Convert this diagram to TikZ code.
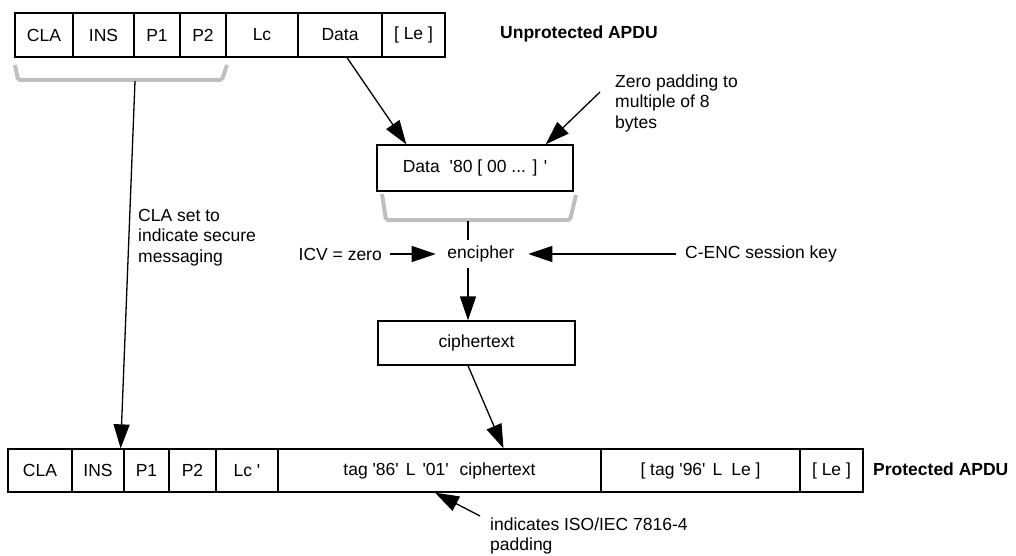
\documentclass[tikz,border=0pt]{standalone}
\usepackage{fontspec}
\setmainfont{Liberation Sans}[Ligatures=TeXOff]
\usetikzlibrary{arrows.meta}
\usetikzlibrary{calc}
\newcommand{\apdufont}{\fontsize{17.5}{20.5}\selectfont}
\tikzset{
	>={Triangle[length=24pt, width=16pt]},
	cell/.style={draw, line width=1.3pt, inner sep=0pt},
	toprow/.style={cell, minimum height=44pt},
	botrow/.style={cell, minimum height=43pt},
	midbox/.style={draw, line width=1.3pt, inner sep=0pt, minimum height=46pt, minimum width=196pt},
	brace/.style={black!25, line width=4pt, rounded corners=2pt},
	conn/.style={black, line width=1.3pt},
	lbl/.style={inner sep=0pt},
	title/.style={inner sep=0pt, anchor=west, font=\apdufont\bfseries},
	note/.style={inner sep=0pt, anchor=west, align=left}
}

\begin{document}
\begin{tikzpicture}[x=1pt, y=-1pt, font=\apdufont]
	\useasboundingbox (0,0) rectangle (1016,556);
	
	% Unprotected APDU
	\node[toprow, minimum width=58pt] (claT) at (44,35) {CLA};
	\node[toprow, minimum width=61pt] (insT) at (103.5,35) {INS};
	\node[toprow, minimum width=46pt] (p1T) at (157,35) {P1};
	\node[toprow, minimum width=46pt] (p2T) at (203,35) {P2};
	\node[toprow, minimum width=72pt] (lcT) at (262,35) {Lc};
	\node[toprow, minimum width=84pt] (dataT) at (340,35) {Data};
	\node[toprow, minimum width=63pt] (leT) at (413.5,35) {[ Le ]};
	\node[title] (unprot) at (500,34) {Unprotected APDU};
	
	% bracket under the header bytes
	\draw[brace] (15,65) -- (18,80) -- (222,80) -- (227,65);
	\coordinate (hdr) at (135,81);
	
	% padded data and its bracket
	\node[midbox] (pad) at (475,168) {Data\hspace{10pt}'80 [ 00 ... ] '};
	\draw[brace] (382,194) -- (386,220) -- (570,220) -- (576,195);
	\coordinate (padbr) at (468,221);
	\coordinate (spine) at (468,0);
	
	% encipher step
	\node[lbl] (enc) at (481,254) {encipher};
	\node[lbl, anchor=east] (icv) at (382,254) {ICV = zero};
	\node[lbl, anchor=west] (key) at (685,254) {C-ENC session key};
	\node[midbox, minimum height=44pt, minimum width=197pt] (ctext) at (476.5,343) {ciphertext};
	
	% Protected APDU
	\node[botrow, minimum width=64pt] (claB) at (40,470.5) {CLA};
	\node[botrow, minimum width=52pt] (insB) at (98,470.5) {INS};
	\node[botrow, minimum width=45pt] (p1B) at (146.5,470.5) {P1};
	\node[botrow, minimum width=47pt] (p2B) at (192.5,470.5) {P2};
	\node[botrow, minimum width=62pt] (lcB) at (247,470.5) {Lc '};
	\node[botrow, minimum width=323pt] (tagB) at (439.5,470.5) {tag '86'\hspace{7pt}L\hspace{7pt}'01'\hspace{11pt}ciphertext};
	\node[botrow, minimum width=199pt] (doB) at (700.5,470.5) {[ tag '96'\hspace{7pt}L\hspace{9pt}Le ]};
	\node[botrow, minimum width=63pt] (leB) at (831.5,470.5) {[ Le ]};
	\node[title] (prot) at (873,469) {Protected APDU};
	
	% notes
	\node[note] (zero) at (615,103) {Zero padding to\\multiple of 8\\bytes};
	\coordinate (zeroTail) at (600,92);
	\node[note] (clanote) at (138,237.5) {CLA set to\\indicate secure\\messaging};
	\node[note] (pads) at (490,536) {indicates ISO/IEC 7816-4\\padding};
	\coordinate (padsTail) at (480,516);
	
	% connectors
	\draw[conn,->] ([xshift=7pt]dataT.south) -- ([xshift=30pt]pad.north west);
	\draw[conn,->] (zeroTail) -- ([xshift=-28pt]pad.north east);
	\draw[conn] (padbr) -- ([yshift=6pt]spine |- enc.north);
	\draw[conn,->] ([xshift=8pt]icv.east) -- ([xshift=-11.5pt]enc.west);
	\draw[conn,->] ([xshift=-9pt]key.west) -- ([xshift=13.5pt]enc.east);
	\draw[conn,->] ([yshift=-6pt]spine |- enc.south) -- (spine |- ctext.north);
	\draw[conn,->] ([xshift=-8.5pt]ctext.south) -- ([xshift=64pt]tagB.north);
	\draw[conn,->] (hdr) -- ([xshift=-4pt]insB.north east);
	\draw[conn,->] (padsTail) -- ([xshift=-4.5pt]tagB.south);
	
\end{tikzpicture}
\end{document}
